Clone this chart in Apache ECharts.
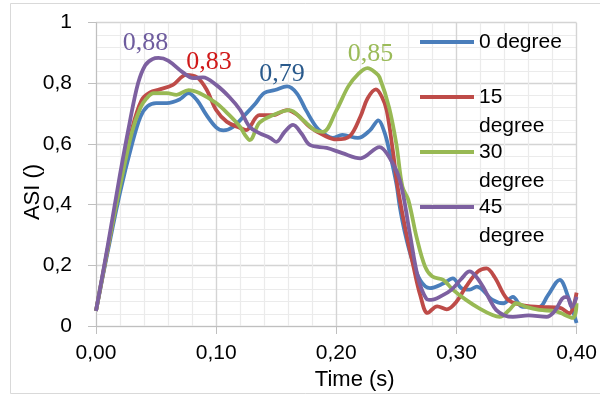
<!DOCTYPE html>
<html><head><meta charset="utf-8">
<script src="https://cdn.jsdelivr.net/npm/echarts@6/dist/echarts.min.js"></script>
<style>html,body{margin:0;padding:0;background:#fff}#c{width:600px;height:396px}</style>
</head><body><div id="c"></div>
<script>
// ---- data ----
const seriesNames = ['0 degree', '15 degree', '30 degree', '45 degree'];
const xTickLabels = ['0,00', '0,10', '0,20', '0,30', '0,40'];
const yTickLabels = ['0', '0,2', '0,4', '0,6', '0,8', '1'];

const t0 = [0,0.01,0.02,0.03,0.037,0.043,0.05,0.059,0.07,0.077,0.084,0.092,0.1,0.106,0.114,0.125,0.132,0.14,0.149,0.159,0.167,0.175,0.184,0.192,0.197,0.205,0.218,0.228,0.235,0.24,0.244,0.25,0.253,0.257,0.263,0.27,0.278,0.289,0.297,0.304,0.311,0.317,0.33,0.339,0.347,0.355,0.369,0.376,0.386,0.393,0.4];
const v0 = [0.05,0.25,0.44,0.60,0.69,0.725,0.735,0.735,0.748,0.768,0.745,0.695,0.655,0.645,0.656,0.70,0.73,0.768,0.778,0.79,0.768,0.71,0.653,0.628,0.62,0.63,0.62,0.645,0.678,0.64,0.58,0.47,0.39,0.31,0.22,0.15,0.125,0.14,0.157,0.125,0.12,0.13,0.086,0.075,0.096,0.063,0.063,0.1,0.152,0.096,0.01];

const t15 = [0,0.01,0.02,0.03,0.038,0.045,0.053,0.064,0.075,0.084,0.092,0.1,0.109,0.12,0.125,0.136,0.147,0.159,0.168,0.178,0.19,0.2,0.211,0.22,0.226,0.233,0.238,0.242,0.247,0.251,0.258,0.264,0.27,0.276,0.284,0.292,0.3,0.308,0.318,0.325,0.332,0.342,0.353,0.37,0.386,0.394,0.4];
const v15 = [0.05,0.26,0.47,0.65,0.745,0.77,0.78,0.795,0.828,0.82,0.78,0.712,0.673,0.653,0.646,0.695,0.695,0.712,0.695,0.656,0.628,0.615,0.625,0.69,0.75,0.78,0.755,0.71,0.58,0.46,0.31,0.2,0.1,0.043,0.065,0.055,0.08,0.13,0.18,0.19,0.16,0.09,0.07,0.063,0.06,0.042,0.11];

const t30 = [0,0.01,0.02,0.03,0.037,0.042,0.048,0.059,0.067,0.077,0.086,0.1,0.111,0.12,0.124,0.128,0.136,0.147,0.161,0.172,0.182,0.189,0.2,0.21,0.218,0.226,0.233,0.236,0.244,0.25,0.255,0.26,0.267,0.274,0.28,0.289,0.297,0.308,0.319,0.33,0.336,0.344,0.35,0.358,0.369,0.383,0.397,0.4];
const v30 = [0.05,0.26,0.46,0.64,0.72,0.75,0.768,0.768,0.762,0.778,0.768,0.735,0.695,0.656,0.63,0.613,0.67,0.695,0.712,0.68,0.646,0.64,0.71,0.79,0.83,0.85,0.834,0.82,0.72,0.60,0.46,0.415,0.29,0.195,0.163,0.152,0.12,0.086,0.058,0.036,0.03,0.053,0.075,0.063,0.053,0.048,0.027,0.075];

const t45 = [0,0.01,0.02,0.028,0.035,0.041,0.047,0.052,0.06,0.072,0.081,0.089,0.1,0.111,0.12,0.128,0.136,0.145,0.15,0.157,0.164,0.171,0.178,0.192,0.205,0.22,0.236,0.244,0.253,0.261,0.268,0.275,0.279,0.288,0.296,0.304,0.311,0.316,0.322,0.328,0.333,0.34,0.347,0.36,0.375,0.382,0.388,0.392,0.396,0.4];
const v45 = [0.05,0.27,0.50,0.67,0.80,0.86,0.88,0.884,0.875,0.837,0.817,0.82,0.795,0.755,0.712,0.656,0.636,0.62,0.607,0.64,0.663,0.635,0.597,0.587,0.57,0.553,0.59,0.557,0.48,0.31,0.16,0.09,0.086,0.10,0.12,0.155,0.18,0.165,0.13,0.085,0.053,0.035,0.03,0.035,0.03,0.05,0.09,0.096,0.063,0.096];

const seriesTimes = [t0, t15, t30, t45];
const seriesValues = [v0, v15, v30, v45];
const peakIndex = [19, 8, 25, 7];

// ---- styling ----
const lineColors = ['#4A7EBB', '#BE4B48', '#98B954', '#7D60A0'];
const peakLabelColors = ['#2A5A8C', '#D01818', '#9BBB59', '#6E5C9E'];
const peakLabelOffsets = [[-5, 6], [23, 6], [3, 4], [-13, 4]];
const legendTops = [27.5, 53.5, 108.5, 163.5];
const FONT = 'Liberation Sans';

const chart = echarts.init(document.getElementById('c'), null, {renderer: 'canvas'});

const series = seriesNames.map((name, s) => ({
  name, type: 'line', smooth: 0.35, symbol: 'none', showSymbol: true,
  lineStyle: {width: 3.8, color: lineColors[s]},
  itemStyle: {color: lineColors[s]},
  data: seriesTimes[s].map((t, i) => {
    const item = {value: [t, seriesValues[s][i]]};
    if (i === peakIndex[s]) {
      item.symbol = 'circle';
      item.symbolSize = 1;
      item.itemStyle = {color: 'rgba(0,0,0,0)'};
      item.label = {
        show: true, position: 'top', distance: 5,
        offset: peakLabelOffsets[s],
        formatter: p => p.value[1].toFixed(2).replace('.', ','),
        color: peakLabelColors[s], fontFamily: 'Liberation Serif', fontSize: 26
      };
    }
    return item;
  })
}));

const legends = seriesNames.map((name, s) => ({
  data: [{name, icon: 'rect'}], left: 420, top: legendTops[s], padding: 0,
  itemWidth: 54, itemHeight: 4, selectedMode: false,
  formatter: n => n === '0 degree' ? n : ' \n' + n.replace(' ', '\n'),
  textStyle: {fontFamily: FONT, fontSize: 21, color: '#000', lineHeight: 29}
}));

chart.setOption({
  animation: false,
  backgroundColor: '#fff',
  grid: {left: 96, right: 23, top: 22.7, bottom: 70, containLabel: false},
  xAxis: {
    type: 'value', min: 0, max: 0.4, interval: 0.1,
    name: 'Time (s)', nameLocation: 'middle', nameGap: 36,
    nameTextStyle: {fontFamily: FONT, fontSize: 22, color: '#000', padding: [0, 0, 0, 37]},
    axisLine: {show: true, lineStyle: {color: '#bfbfbf', width: 1}},
    axisTick: {show: true, length: 8, lineStyle: {color: '#bfbfbf'}},
    axisLabel: {margin: 17, fontFamily: FONT, fontSize: 21, color: '#000',
      formatter: v => xTickLabels[Math.round(v / 0.1)]},
    splitLine: {show: true, lineStyle: {color: '#d4d4d4', width: 1.4}},
    minorTick: {show: false, splitNumber: 5},
    minorSplitLine: {show: true, lineStyle: {color: '#ebebeb', width: 1.2}}
  },
  yAxis: {
    type: 'value', min: 0, max: 1, interval: 0.2,
    axisLine: {show: true, lineStyle: {color: '#bfbfbf', width: 1}},
    axisTick: {show: true, length: 8, lineStyle: {color: '#bfbfbf'}},
    axisLabel: {margin: 24, fontFamily: FONT, fontSize: 21, color: '#000',
      formatter: v => yTickLabels[Math.round(v / 0.2)]},
    splitLine: {show: true, lineStyle: {color: '#d4d4d4', width: 1.4}},
    minorTick: {show: false, splitNumber: 5},
    minorSplitLine: {show: true, lineStyle: {color: '#ebebeb', width: 1.2}}
  },
  legend: legends,
  graphic: [
    {type: 'rect', shape: {x: 10.5, y: 3.5, width: 600, height: 390}, style: {fill: null, stroke: '#d9d9d9', lineWidth: 1}, silent: true, z: -10},
    {type: 'text', x: 33, y: 192, rotation: Math.PI / 2,
      style: {text: 'ASI ()', fontFamily: FONT, fontSize: 22, fill: '#000', align: 'center', verticalAlign: 'middle'}}
  ],
  series
});
</script></body></html>
